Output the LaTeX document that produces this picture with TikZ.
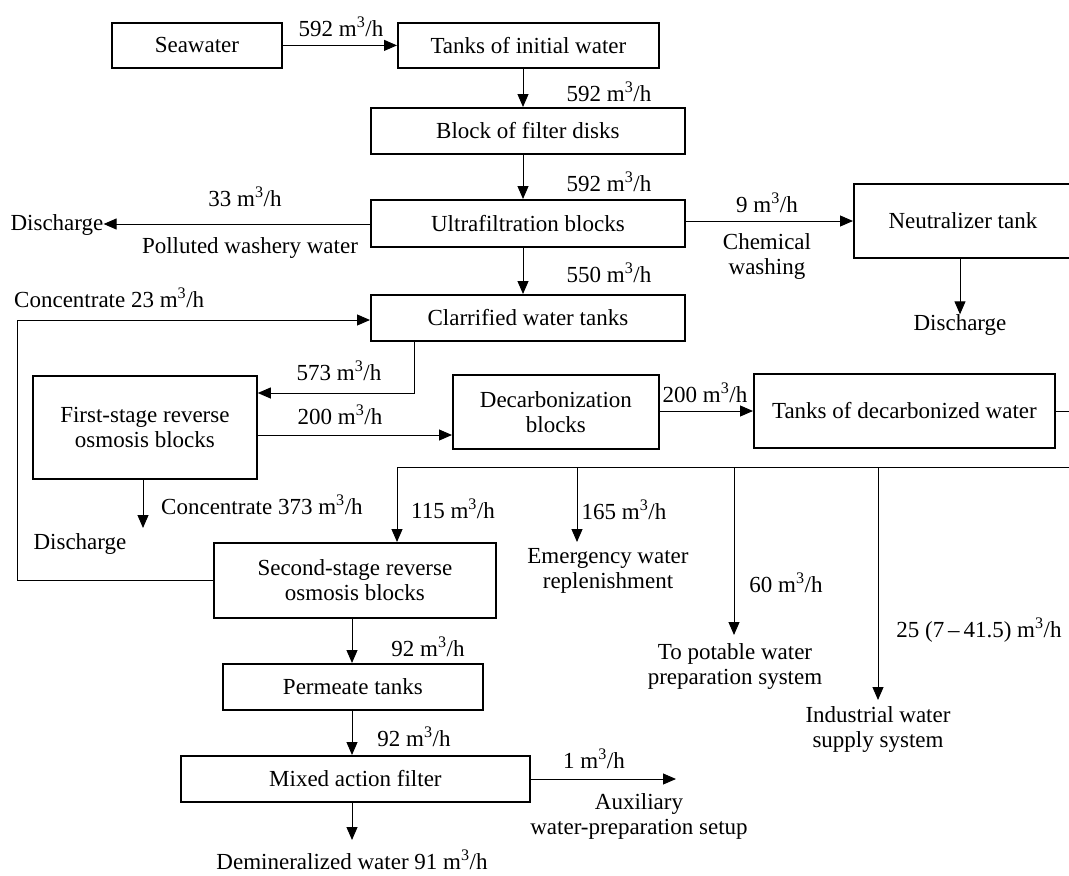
\documentclass[tikz,border=0pt]{standalone}
\usepackage{fontspec}
\setmainfont{Liberation Serif}
\usetikzlibrary{arrows.meta}
\newcommand{\cmh}{m\textsuperscript{3}/h}
\begin{document}
\begin{tikzpicture}[x=1pt,y=-1pt,
  every node/.style={font=\fontsize{23}{25}\selectfont},
  blk/.style={draw,line width=1.8pt,inner sep=0pt,anchor=north west,align=center},
  lbl/.style={inner sep=0pt,align=center},
  flow/.style={line width=1pt,-{Triangle[length=13pt,width=11pt]}},
  pipe/.style={line width=1pt}]
\useasboundingbox (0,0) rectangle (1069,876);
\clip (0,0) rectangle (1069,876);
% boxes
\node[blk,minimum width=170pt,minimum height=45pt] (sea) at (111,22) {Seawater};
\node[blk,minimum width=261pt,minimum height=45pt] (tiw) at (397,22) {Tanks of initial water};
\node[blk,minimum width=314pt,minimum height=46pt] (bfd) at (370,107) {Block of filter disks};
\node[blk,minimum width=314pt,minimum height=47pt] (ufb) at (370,199) {Ultrafiltration blocks};
\node[blk,minimum width=314pt,minimum height=46pt] (cwt) at (370,294) {Clarrified water tanks};
\node[blk,minimum width=218pt,minimum height=74pt] (neu) at (853,183) {Neutralizer tank};
\node[blk,minimum width=224pt,minimum height=103pt] (fro) at (32,375) {First-stage reverse\\osmosis blocks};
\node[blk,minimum width=206pt,minimum height=74pt] (dcb) at (452,374) {Decarbonization\\blocks};
\node[blk,minimum width=301pt,minimum height=74pt] (tdw) at (753,373) {Tanks of decarbonized water};
\node[blk,minimum width=282pt,minimum height=75pt] (sro) at (213,542) {Second-stage reverse\\osmosis blocks};
\node[blk,minimum width=260pt,minimum height=46pt] (prt) at (222,663) {Permeate tanks};
\node[blk,minimum width=349pt,minimum height=46pt] (maf) at (180,755) {Mixed action filter};
% free-end labels
\node[lbl] (dis1) at (57,225) {Discharge};
\node[lbl] (dis2) at (960,325) {Discharge};
\node[lbl] (dis3) at (80,544) {Discharge};
\node[lbl,anchor=north] (emg) at (608,548) {Emergency water\\replenishment};
\node[lbl,anchor=north] (pot) at (735,643) {To potable water\\preparation system};
\node[lbl,anchor=north] (ind) at (878,706) {Industrial water\\supply system};
\node[lbl,anchor=north] (aux) at (639,793) {Auxiliary\\water-preparation setup};
\node[lbl,anchor=north] (dem) at (352,850) {Demineralized water 91 \cmh};
% coordinates
\coordinate (loopL) at (17,580);
\coordinate (loopT) at (17,320);
\coordinate (busR) at (1075,467);
\coordinate (busL) at (397,467);
\coordinate (tdwR) at (1075,411);
% connectors
\draw[flow] (sea.east) -- (tiw.west);
\draw[flow] (tiw.south -| 523,0) -- (bfd.north -| 523,0);
\draw[flow] (bfd.south -| 523,0) -- (ufb.north -| 523,0);
\draw[flow] (ufb.south -| 523,0) -- (cwt.north -| 523,0);
\draw[flow] (ufb.west |- 0,224) -- (dis1.east |- 0,224);
\draw[flow] (ufb.east |- 0,221) -- (neu.west |- 0,221);
\draw[flow] (neu.south -| 960,0) -- (dis2.north);
\draw[flow] (sro.west |- 0,580) -- (loopL) -- (loopT) -- (cwt.west |- loopT);
\draw[flow] (cwt.south -| 414,0) -- (414,393) -- (fro.east |- 0,393);
\draw[flow] (fro.east |- 0,435) -- (dcb.west |- 0,435);
\draw[flow] (dcb.east |- 0,411) -- (tdw.west |- 0,411);
\draw[flow] (fro.south -| 143,0) -- (143,528);
\draw[pipe] (tdw.east |- tdwR) -- (tdwR);
\draw[pipe] (busR) -- (busL);
\draw[flow] (busL) -- (sro.north -| busL);
\draw[flow] (577,467) -- (577,542);
\draw[flow] (734,467) -- (734,635);
\draw[flow] (878,467) -- (878,700);
\draw[flow] (sro.south -| 352,0) -- (prt.north -| 352,0);
\draw[flow] (prt.south -| 352,0) -- (maf.north -| 352,0);
\draw[flow] (maf.east |- 0,779) -- (676,779);
\draw[flow] (maf.south -| 352,0) -- (352,840);
% flow labels
\node[lbl] at (341,27) {592 \cmh};
\node[lbl] at (609,92) {592 \cmh};
\node[lbl] at (609,182) {592 \cmh};
\node[lbl] at (609,273) {550 \cmh};
\node[lbl] at (245,197) {33 \cmh};
\node[lbl] at (250,248) {Polluted washery water};
\node[lbl] at (767,203) {9 \cmh};
\node[lbl] at (767,256) {Chemical\\washing};
\node[lbl,anchor=west] at (14,298) {Concentrate 23 \cmh};
\node[lbl] at (339,371) {573 \cmh};
\node[lbl] at (340,415) {200 \cmh};
\node[lbl] at (705,393) {200 \cmh};
\node[lbl,anchor=west] at (161,505) {Concentrate 373 \cmh};
\node[lbl] at (453,509) {115 \cmh};
\node[lbl] at (624,510) {165 \cmh};
\node[lbl] at (786,583) {60 \cmh};
\node[lbl] at (979,630) {25 (7\,–\,41.5) \cmh};
\node[lbl] at (428,647) {92 \cmh};
\node[lbl] at (414,737) {92 \cmh};
\node[lbl] at (594,759) {1 \cmh};
\end{tikzpicture}
\end{document}
